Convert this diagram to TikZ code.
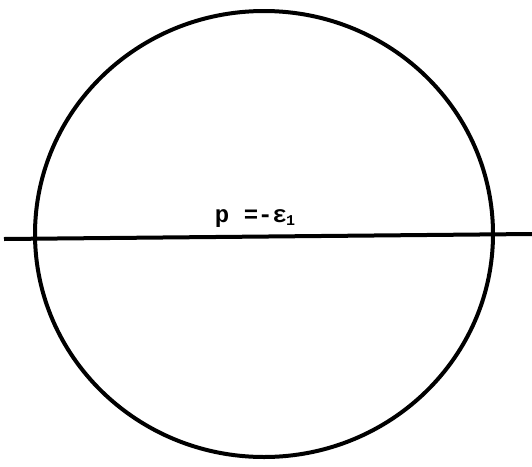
\documentclass[tikz,border=0pt]{standalone}
\usepackage{fontspec}
\setmonofont{Liberation Mono}
\begin{document}
\begin{tikzpicture}[x=1pt,y=-1pt,
  heavy/.style={line width=4pt,black},
  lbl/.style={font=\ttfamily\bfseries\fontsize{24}{27}\selectfont,inner sep=0pt}]
\useasboundingbox (0,0) rectangle (532,466);
\coordinate (c) at (264,234);
\draw[heavy] (c) ellipse [x radius=229, y radius=223];
\coordinate (l) at (4,239);
\coordinate (r) at (532,234);
\draw[heavy] (l) -- (r);
\node[lbl,anchor=base] (t) at (255,222) {p =-ε\kern-1pt\raisebox{-3pt}{\fontsize{15}{15}\selectfont 1}};
\end{tikzpicture}
\end{document}
